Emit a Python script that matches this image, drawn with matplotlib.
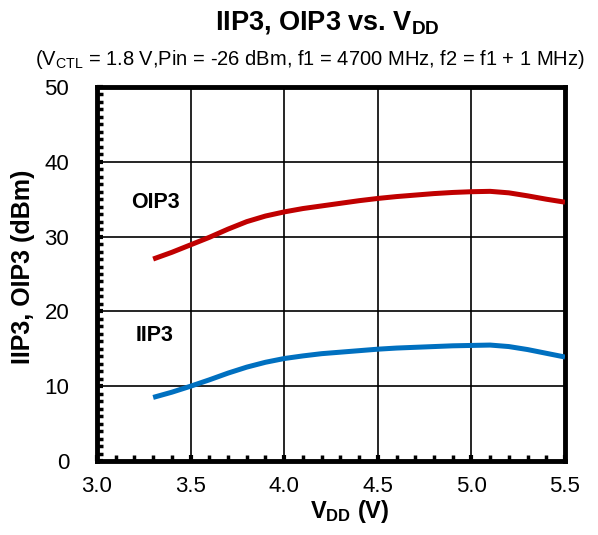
import matplotlib
matplotlib.use("Agg")
import matplotlib.pyplot as plt
from matplotlib.ticker import MultipleLocator

plt.rcParams["font.family"] = ["Liberation Sans", "DejaVu Sans"]
plt.rcParams["mathtext.fontset"] = "custom"
plt.rcParams["mathtext.rm"] = "Liberation Sans"
plt.rcParams["mathtext.bf"] = "Liberation Sans:bold"
plt.rcParams["mathtext.default"] = "rm"

# Data
vdd = [3.3, 3.4, 3.5, 3.6, 3.7, 3.8, 3.9, 4.0, 4.1, 4.2, 4.3, 4.4,
       4.5, 4.6, 4.7, 4.8, 4.9, 5.0, 5.1, 5.2, 5.3, 5.4, 5.5]
oip3 = [27.0, 27.9, 28.9, 29.9, 31.0, 32.0, 32.75, 33.3, 33.75, 34.1, 34.45, 34.8,
        35.1, 35.35, 35.55, 35.75, 35.9, 36.0, 36.05, 35.85, 35.45, 35.0, 34.6]
iip3 = [8.5, 9.2, 10.0, 10.85, 11.75, 12.55, 13.2, 13.7, 14.05, 14.35, 14.55, 14.75,
        14.95, 15.1, 15.2, 15.3, 15.4, 15.45, 15.5, 15.3, 14.9, 14.4, 13.9]
x_ticks = [3.0, 3.5, 4.0, 4.5, 5.0, 5.5]
y_ticks = [0, 10, 20, 30, 40, 50]

fig = plt.figure(figsize=(5.98, 5.35), dpi=100)
ax = fig.add_axes([0.1622, 0.1383, 0.7826, 0.6991])

ax.plot(vdd, oip3, color="#C00000", linewidth=3.6, solid_capstyle="butt",
        solid_joinstyle="round", zorder=3)
ax.plot(vdd, iip3, color="#0070C0", linewidth=3.6, solid_capstyle="butt",
        solid_joinstyle="round", zorder=3)

ax.set_xlim(3.0, 5.5)
ax.set_ylim(0, 50)
ax.set_xticks(x_ticks)
ax.set_yticks(y_ticks)
ax.set_xticklabels(["%.1f" % v for v in x_ticks])
ax.xaxis.set_minor_locator(MultipleLocator(0.1))
ax.yaxis.set_minor_locator(MultipleLocator(1))
ax.tick_params(axis="both", which="both", direction="in", color="black")
ax.tick_params(axis="both", which="major", length=4, width=3, labelsize=16)
ax.tick_params(axis="both", which="minor", length=4, width=2.5)
ax.tick_params(axis="y", which="major", pad=20)
ax.tick_params(axis="x", which="major", pad=11)
ax.grid(True, which="major", color="black", linewidth=1.2)

for side in ["left", "bottom", "top", "right"]:
    ax.spines[side].set_linewidth(3.5)

ax.text(3.31, 34.5, "OIP3", fontsize=15.5, fontweight="bold", ha="center", va="center")
ax.text(3.31, 16.8, "IIP3", fontsize=15.5, fontweight="bold", ha="center", va="center")

ax.set_xlabel(r"V$_{\mathbf{DD}}$ (V)", fontsize=17, fontweight="bold", labelpad=4)
ax.xaxis.set_label_coords(0.54, -0.1)
ax.set_ylabel("IIP3, OIP3 (dBm)", fontsize=18, fontweight="bold")
ax.yaxis.set_label_coords(-0.133, 0.52)

fig.text(0.548, 0.958, r"IIP3, OIP3 vs. V$_{\mathbf{DD}}$", fontsize=19.5,
         fontweight="bold", ha="center", va="center")
fig.text(0.518, 0.888, r"(V$_{\mathrm{CTL}}$ = 1.8 V,Pin = -26 dBm, f1 = 4700 MHz, f2 = f1 + 1 MHz)",
         fontsize=14.5, ha="center", va="center")

fig.savefig("out.png", dpi=100)
